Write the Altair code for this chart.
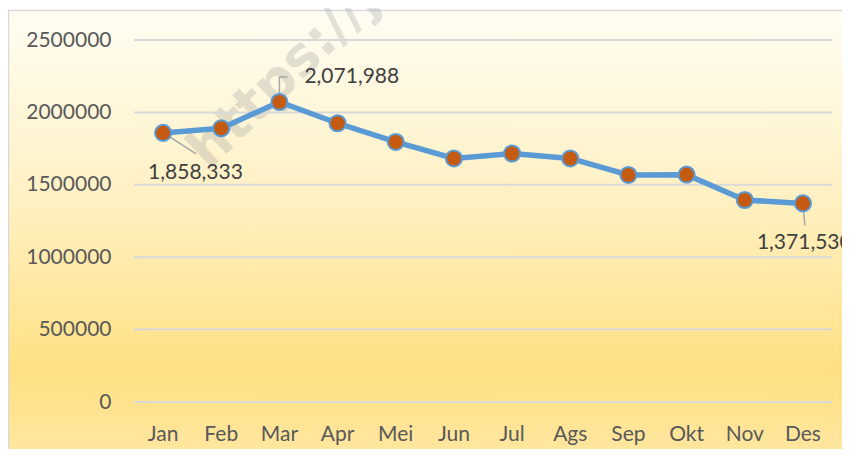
import altair as alt
import pandas as pd

months = ["Jan", "Feb", "Mar", "Apr", "Mei", "Jun", "Jul", "Ags", "Sep", "Okt", "Nov", "Des"]
values = [1858333, 1890000, 2071988, 1925000, 1796000, 1682000, 1716000, 1682000, 1568000, 1570000, 1395000, 1371530]
y_ticks = [0, 500000, 1000000, 1500000, 2000000, 2500000]
watermark = "https://j"

df = pd.DataFrame({"month": months, "value": values})
df["label"] = df["value"].map(lambda v: f"{v:,}")
grid_df = pd.DataFrame({"tick": y_ticks})

W, H = 698, 362
FONT = "Lato"
GREY = "#595959"

x_scale = alt.Scale(domain=months, paddingInner=0, paddingOuter=0)
x_enc = alt.X("month:N", sort=months, scale=x_scale,
              axis=alt.Axis(title=None, domain=False, ticks=False, grid=False, labelFont=FONT,
                            labelFontSize=21, labelColor=GREY, labelPadding=21, labelAngle=0, zindex=1))
y_scale = alt.Scale(domain=[0, 2500000], nice=False)
y_axis = alt.Axis(title=None, values=y_ticks, format="d", domain=False, ticks=False, grid=False,
                  labelFont=FONT, labelFontSize=21, labelColor=GREY, labelPadding=23, zindex=1)

# background with gradient
bg = alt.Chart(pd.DataFrame({"a": [0]})).mark_rect(
    fill=alt.LinearGradient(
        gradient="linear", x1=0, x2=0, y1=0, y2=1,
        stops=[alt.GradientStop(color="#FFFDF3", offset=0),
               alt.GradientStop(color="#FFF1C4", offset=0.4),
               alt.GradientStop(color="#FFE083", offset=0.78),
               alt.GradientStop(color="#FFE8A6", offset=1)]),
    stroke="#D9D9D9", strokeWidth=1.5
).encode(x=alt.value(-125.5), x2=alt.value(W + 40), y=alt.value(-29.5), y2=alt.value(H + 70))

wm = alt.Chart(pd.DataFrame({"t": [watermark]})).mark_text(
    font="DejaVu Sans", fontSize=54, fontWeight="bold", color="#9A9A9A", opacity=0.28,
    angle=316, align="center", baseline="middle"
).encode(text="t:N", x=alt.value(150), y=alt.value(36))

grid = alt.Chart(grid_df).mark_rule(color="#D9D9D9", strokeWidth=2).encode(
    y=alt.Y("tick:Q", scale=y_scale, axis=y_axis),
    x=alt.value(0), x2=alt.value(W)
)

base = alt.Chart(df).encode(
    x=x_enc,
    y=alt.Y("value:Q", scale=y_scale, axis=y_axis)
)

line = base.mark_line(color="#5B9BD5", strokeWidth=5.5)
points = base.mark_point(filled=True, fill="#C55A11", stroke="#5B9BD5", strokeWidth=2,
                         size=260, opacity=1, shape="circle")

lead_style = dict(color="#A6A6A6", strokeWidth=1.5)
jan = df[df.month == "Jan"]
mar = df[df.month == "Mar"]
des = df[df.month == "Des"]

def rule(d, **offs):
    return alt.Chart(d).mark_rule(**lead_style, **offs).encode(
        x=alt.X("month:N", sort=months, scale=x_scale),
        x2="month:N",
        y=alt.Y("value:Q", scale=y_scale), y2="value:Q")

leaders = [
    rule(jan, xOffset=2, yOffset=1, x2Offset=33, y2Offset=21),
    rule(mar, yOffset=-3, y2Offset=-25),
    rule(mar, yOffset=-25, y2Offset=-25, x2Offset=8),
    rule(des, yOffset=2, x2Offset=2, y2Offset=22),
]

def label(d, dx, dy):
    return alt.Chart(d).mark_text(font=FONT, fontSize=21, color="#404040", align="left",
                                  baseline="middle", dx=dx, dy=dy).encode(
        x=alt.X("month:N", sort=months, scale=x_scale),
        y=alt.Y("value:Q", scale=y_scale), text="label:N")

labels = [label(jan, -15, 40), label(mar, 25, -25), label(des, -46, 40)]

chart = alt.layer(bg, wm, grid, line, *leaders, points, *labels).properties(
    width=W, height=H,
    autosize=alt.AutoSizeParams(type="none"),
    padding={"left": 126, "top": 32, "right": 10, "bottom": 47},
    background="white"
).configure_view(stroke=None)

chart.save("out.html", embed_options={"renderer": "svg", "actions": False})
